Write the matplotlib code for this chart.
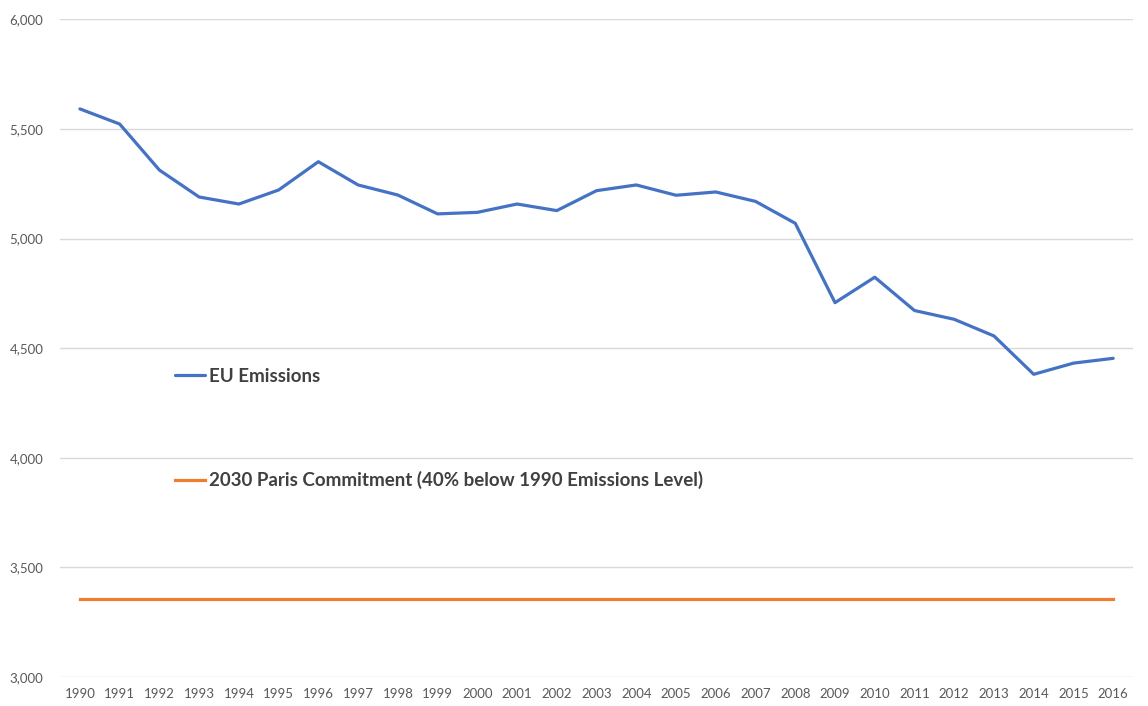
import matplotlib
matplotlib.use("Agg")
import matplotlib.pyplot as plt
from matplotlib.ticker import FuncFormatter

years = [str(y) for y in range(1990, 2017)]
eu_emissions = [5592, 5523, 5313, 5190, 5158, 5222, 5351, 5245, 5199, 5113,
                5120, 5158, 5128, 5219, 5245, 5198, 5213, 5170, 5070, 4708,
                4824, 4672, 4632, 4556, 4381, 4432, 4454]
paris_commitment = [3355] * len(years)
y_ticks = [3000, 3500, 4000, 4500, 5000, 5500, 6000]

plt.rcParams['font.family'] = ['Lato', 'DejaVu Sans']

fig = plt.figure(figsize=(11.48, 7.06), dpi=100)
ax = fig.add_axes([0.0523, 0.0411, 0.9347, 0.9313])

x = list(range(len(years)))
ax.plot(x, eu_emissions, color='#4472C4', lw=2.3, label='EU Emissions', solid_capstyle='round')
ax.plot(x, paris_commitment, color='#ED7D31', lw=2.3,
        label='2030 Paris Commitment (40% below 1990 Emissions Level)')

ax.set_xlim(-0.5, len(years) - 0.5)
ax.set_ylim(3000, 6000)
ax.set_yticks(y_ticks)
ax.yaxis.set_major_formatter(FuncFormatter(lambda v, p: f"{int(v):,}"))
ax.set_xticks(x)
ax.set_xticklabels(years)
ax.grid(axis='y', color='#d9d9d9', lw=1)
ax.set_axisbelow(True)
for s in ax.spines.values():
    s.set_visible(False)
ax.tick_params(axis='both', length=0, colors='#595959', labelsize=9.5)
ax.tick_params(axis='y', pad=12)
ax.tick_params(axis='x', pad=8)

leg = ax.legend(loc='upper left', bbox_to_anchor=(0.107, 0.470), frameon=False,
                handlelength=1.6, handletextpad=0.2, labelspacing=4.6,
                borderpad=0, borderaxespad=0,
                prop={'family': 'Lato', 'weight': 'bold', 'size': 13.5})
for t in leg.get_texts():
    t.set_color('#404040')

fig.savefig('out.png', dpi=100, facecolor='white')
